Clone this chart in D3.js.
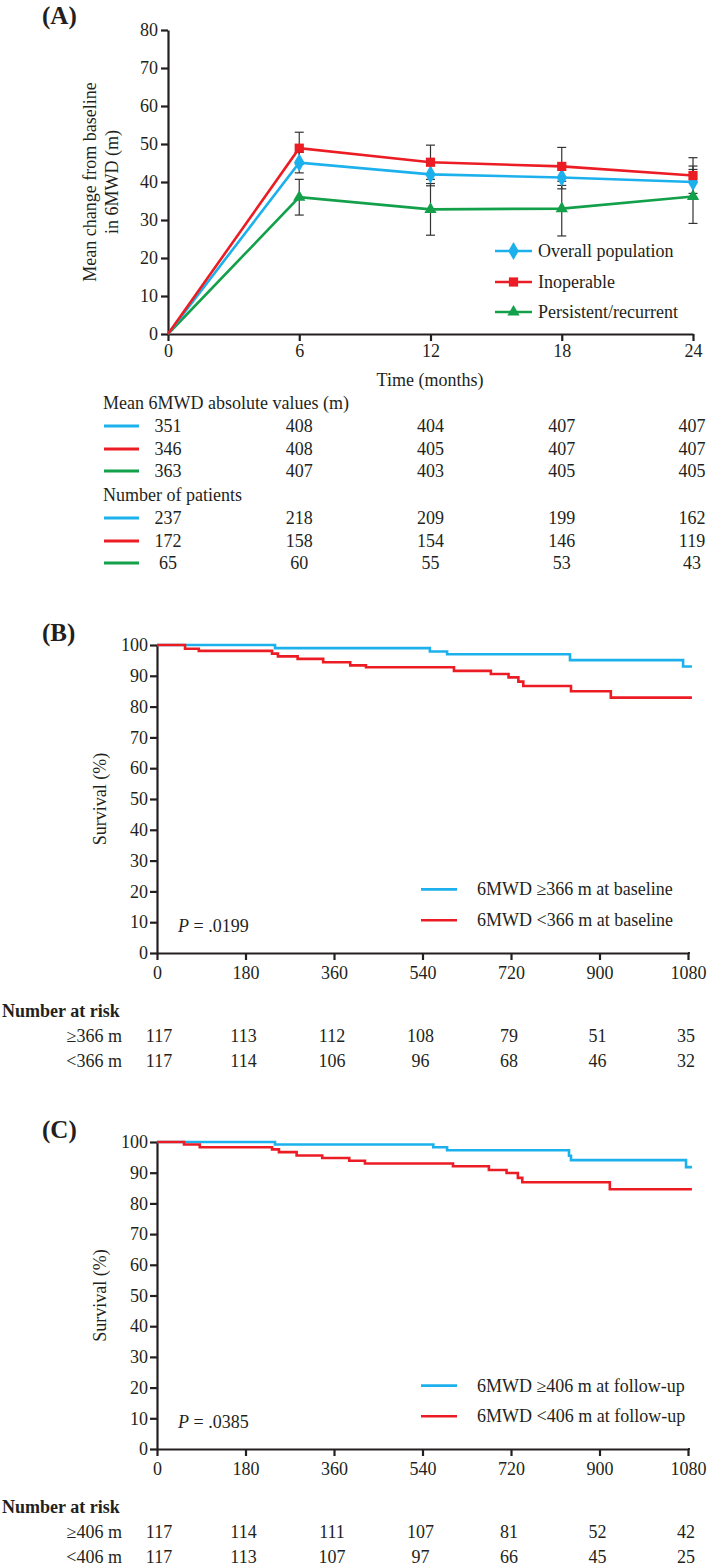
<!DOCTYPE html>
<html>
<head>
<meta charset="utf-8">
<script src="https://cdn.jsdelivr.net/npm/d3@7"></script>
<style>
  html, body { margin: 0; padding: 0; background: #fff; }
  svg { display: block; }
  text { font-family: "Liberation Serif", "Times New Roman", serif; fill: #231f20; }
</style>
</head>
<body>
<svg id="chart" width="709" height="1566"></svg>
<script>
// ---------------- Panel A data ----------------
const months = [0, 6, 12, 18, 24];
const seriesNames = ["Overall population", "Inoperable", "Persistent/recurrent"];
const overallMean = [0, 45.1, 42.0, 41.2, 40.0];
const inoperableMean = [0, 48.9, 45.2, 44.1, 41.7];
const persistentMean = [0, 36.0, 32.8, 33.0, 36.2];
const overallErr = [0, 2.7, 3.0, 3.0, 4.2];
const inoperableErr = [0, 4.2, 4.5, 5.0, 4.7];
const persistentErr = [0, 4.7, 6.8, 7.2, 7.1];
const yTicksA = [0, 10, 20, 30, 40, 50, 60, 70, 80];
const absOverall = [351, 408, 404, 407, 407];
const absInoperable = [346, 408, 405, 407, 407];
const absPersistent = [363, 407, 403, 405, 405];
const nOverall = [237, 218, 209, 199, 162];
const nInoperable = [172, 158, 154, 146, 119];
const nPersistent = [65, 60, 55, 53, 43];

// ---------------- Panel B data (Kaplan-Meier) ----------------
const kmTicks = [0, 180, 360, 540, 720, 900, 1080];
const survTicks = [0, 10, 20, 30, 40, 50, 60, 70, 80, 90, 100];
const kmEnd = 1088;
const bHighTimes = [0, 240, 555, 590, 840, 1070];
const bHighSurv = [100, 99.0, 97.9, 97.0, 95.1, 93.0];
const bLowTimes = [0, 57, 85, 234, 246, 286, 338, 393, 425, 604, 679, 715, 735, 745, 842, 923];
const bLowSurv = [100, 98.8, 98.1, 97.2, 96.3, 95.5, 94.4, 93.4, 92.8, 91.6, 90.6, 89.5, 88.1, 86.7, 85.0, 82.9];
const bRiskHigh = [117, 113, 112, 108, 79, 51, 35];
const bRiskLow = [117, 114, 106, 96, 68, 46, 32];
const bLegend = ["6MWD \u2265366 m at baseline", "6MWD <366 m at baseline"];
const bRiskLabels = ["\u2265366 m", "<366 m"];
const bP = ".0199";

// ---------------- Panel C data (Kaplan-Meier) ----------------
const cHighTimes = [0, 240, 562, 590, 838, 842, 1076];
const cHighSurv = [100, 99.2, 98.3, 97.3, 95.5, 94.1, 91.8];
const cLowTimes = [0, 55, 87, 234, 248, 284, 336, 391, 423, 602, 675, 711, 734, 743, 921];
const cLowSurv = [100, 99.2, 98.3, 97.6, 96.7, 95.6, 94.8, 93.9, 93.0, 92.1, 90.9, 89.9, 88.3, 86.9, 84.6];
const cRiskHigh = [117, 114, 111, 107, 81, 52, 42];
const cRiskLow = [117, 113, 107, 97, 66, 45, 25];
const cLegend = ["6MWD \u2265406 m at follow-up", "6MWD <406 m at follow-up"];
const cRiskLabels = ["\u2265406 m", "<406 m"];
const cP = ".0385";

// ---------------- styles ----------------
const BLUE = "#1cb1ec", RED = "#ec1c24", GREEN = "#12a04a", INK = "#231f20";
const FS = 18;

const svg = d3.select("#chart");

function styleAxis(g) {
  g.attr("font-family", null).attr("font-size", null);
  g.selectAll("path.domain").attr("stroke", INK).attr("stroke-width", 2.2);
  g.selectAll(".tick line").attr("stroke", INK).attr("stroke-width", 2.2);
  g.selectAll(".tick text").attr("font-size", FS).attr("fill", INK)
    .attr("font-family", "Liberation Serif");
}

// ================= Panel A =================
const xA = d3.scaleLinear().domain([0, 24]).range([168, 693]);
const yA = d3.scaleLinear().domain([0, 80]).range([334, 30]);

svg.append("text").attr("x", 42).attr("y", 24).attr("font-size", 25).attr("font-weight", "bold").text("(A)");

const gA = svg.append("g");
gA.append("g").attr("transform", "translate(168,0)")
  .call(d3.axisLeft(yA).tickValues(yTicksA).tickSize(7).tickSizeOuter(0).tickPadding(3).tickFormat(d3.format("d")))
  .call(styleAxis);
gA.append("g").attr("transform", "translate(0,334)")
  .call(d3.axisBottom(xA).tickValues(months).tickSize(7).tickSizeOuter(0).tickPadding(3).tickFormat(d3.format("d")))
  .call(styleAxis);

gA.append("text").attr("transform", "translate(90,182) rotate(-90)")
  .attr("text-anchor", "middle").attr("dy", "0.35em").attr("font-size", FS).text("Mean change from baseline");
gA.append("text").attr("transform", "translate(112,182) rotate(-90)")
  .attr("text-anchor", "middle").attr("dy", "0.35em").attr("font-size", FS).text("in 6MWD (m)");
gA.append("text").attr("x", 430).attr("y", 386).attr("text-anchor", "middle").attr("font-size", FS).text("Time (months)");

const seriesA = [
  { name: seriesNames[0], mean: overallMean, err: overallErr, color: BLUE, sym: d3.symbolDiamond, size: 95 },
  { name: seriesNames[1], mean: inoperableMean, err: inoperableErr, color: RED, sym: d3.symbolSquare, size: 85 },
  { name: seriesNames[2], mean: persistentMean, err: persistentErr, color: GREEN, sym: d3.symbolTriangle, size: 65 }
];

// error bars
seriesA.forEach(s => {
  months.forEach((m, i) => {
    if (s.err[i] <= 0) return;
    const x = xA(m), y1 = yA(s.mean[i] - s.err[i]), y2 = yA(s.mean[i] + s.err[i]);
    gA.append("line").attr("x1", x).attr("x2", x).attr("y1", y1).attr("y2", y2).attr("stroke", "#333").attr("stroke-width", 1.2);
    [y1, y2].forEach(yy => gA.append("line").attr("x1", x - 4.5).attr("x2", x + 4.5).attr("y1", yy).attr("y2", yy).attr("stroke", "#333").attr("stroke-width", 1.2));
  });
});

const lineA = d3.line().x(d => xA(d[0])).y(d => yA(d[1]));
[seriesA[2], seriesA[0], seriesA[1]].forEach(s => {
  gA.append("path").datum(months.map((m, i) => [m, s.mean[i]]))
    .attr("d", lineA).attr("fill", "none").attr("stroke", s.color).attr("stroke-width", 2.6);
  months.forEach((m, i) => {
    if (i === 0) return;
    gA.append("path").attr("d", d3.symbol().type(s.sym).size(s.size)())
      .attr("transform", `translate(${xA(m)},${yA(s.mean[i])})`).attr("fill", s.color);
  });
});

// legend A
const legA = [251, 282, 312];
seriesA.forEach((s, i) => {
  gA.append("line").attr("x1", 495).attr("x2", 532).attr("y1", legA[i]).attr("y2", legA[i]).attr("stroke", s.color).attr("stroke-width", 2.6);
  gA.append("path").attr("d", d3.symbol().type(s.sym).size(s.size)()).attr("transform", `translate(513.5,${legA[i]})`).attr("fill", s.color);
  gA.append("text").attr("x", 538).attr("y", legA[i] + 6).attr("font-size", FS).text(s.name);
});

// table A
gA.append("text").attr("x", 103).attr("y", 409).attr("font-size", FS).text("Mean 6MWD absolute values (m)");
gA.append("text").attr("x", 103).attr("y", 501).attr("font-size", FS).text("Number of patients");
const tableRows = [
  { vals: absOverall, color: BLUE, y: 426 },
  { vals: absInoperable, color: RED, y: 449 },
  { vals: absPersistent, color: GREEN, y: 471 },
  { vals: nOverall, color: BLUE, y: 518 },
  { vals: nInoperable, color: RED, y: 541 },
  { vals: nPersistent, color: GREEN, y: 563 }
];
tableRows.forEach(r => {
  gA.append("line").attr("x1", 104).attr("x2", 139).attr("y1", r.y).attr("y2", r.y).attr("stroke", r.color).attr("stroke-width", 2.8);
  r.vals.forEach((v, i) => {
    gA.append("text").attr("x", xA(months[i]) - (i === 4 ? 1 : 0)).attr("y", r.y + 6).attr("text-anchor", "middle").attr("font-size", FS).text(v);
  });
});

// ================= KM panels =================
const xK = d3.scaleLinear().domain([0, 1080]).range([157, 688]);

function kmPanel(opts) {
  const { label, top, bottom, highT, highS, lowT, lowS, legend, riskLabels, riskHigh, riskLow, pval } = opts;
  const y = d3.scaleLinear().domain([0, 100]).range([bottom, top]);
  const g = svg.append("g");
  g.append("text").attr("x", 42).attr("y", top - 4).attr("font-size", 25).attr("font-weight", "bold").text(label);

  g.append("g").attr("transform", "translate(157,0)")
    .call(d3.axisLeft(y).tickValues(survTicks).tickSize(7).tickSizeOuter(0).tickPadding(2).tickFormat(d3.format("d")))
    .call(styleAxis);
  g.append("g").attr("transform", `translate(0,${bottom})`)
    .call(d3.axisBottom(xK).tickValues(kmTicks).tickSize(7).tickSizeOuter(0).tickPadding(6).tickFormat(d3.format("d")))
    .call(styleAxis);
  g.append("line").attr("x1", 688).attr("x2", xK(kmEnd) - 2).attr("y1", bottom).attr("y2", bottom).attr("stroke", INK).attr("stroke-width", 2.2);

  g.append("text").attr("transform", `translate(100,${(top + bottom) / 2}) rotate(-90)`)
    .attr("text-anchor", "middle").attr("dy", "0.35em").attr("font-size", FS).text("Survival (%)");

  const stepLine = d3.line().curve(d3.curveStepAfter).x(d => xK(d[0])).y(d => y(d[1]));
  const mk = (T, S) => { const p = T.map((t, i) => [t, S[i]]); p.push([kmEnd, S[S.length - 1]]); return p; };
  g.append("path").datum(mk(highT, highS)).attr("d", stepLine).attr("fill", "none").attr("stroke", BLUE).attr("stroke-width", 2.6);
  g.append("path").datum(mk(lowT, lowS)).attr("d", stepLine).attr("fill", "none").attr("stroke", RED).attr("stroke-width", 2.6);

  // legend
  [[BLUE, y(20) - 2], [RED, y(10) - 2]].forEach(([c, yy], i) => {
    g.append("line").attr("x1", 421).attr("x2", 457).attr("y1", yy).attr("y2", yy).attr("stroke", c).attr("stroke-width", 2.6);
    g.append("text").attr("x", 477).attr("y", yy + 6).attr("font-size", FS).text(legend[i]);
  });

  // P value
  const pt = g.append("text").attr("x", 178).attr("y", y(10) + 10).attr("font-size", FS);
  pt.append("tspan").attr("font-style", "italic").text("P");
  pt.append("tspan").text(" = " + pval);

  // number at risk
  g.append("text").attr("x", 2).attr("y", bottom + 64).attr("font-size", FS).attr("font-weight", "bold").text("Number at risk");
  [[riskLabels[0], riskHigh, bottom + 89], [riskLabels[1], riskLow, bottom + 114]].forEach(([lab, vals, yy]) => {
    g.append("text").attr("x", 122).attr("y", yy).attr("text-anchor", "end").attr("font-size", FS).text(lab);
    vals.forEach((v, i) => {
      g.append("text").attr("x", xK(kmTicks[i]) + (i === 0 ? 2 : -2)).attr("y", yy).attr("text-anchor", "middle").attr("font-size", FS).text(v);
    });
  });
}

kmPanel({ label: "(B)", top: 645, bottom: 953, highT: bHighTimes, highS: bHighSurv, lowT: bLowTimes, lowS: bLowSurv,
  legend: bLegend, riskLabels: bRiskLabels, riskHigh: bRiskHigh, riskLow: bRiskLow, pval: bP });
kmPanel({ label: "(C)", top: 1142, bottom: 1449, highT: cHighTimes, highS: cHighSurv, lowT: cLowTimes, lowS: cLowSurv,
  legend: cLegend, riskLabels: cRiskLabels, riskHigh: cRiskHigh, riskLow: cRiskLow, pval: cP });
</script>
</body>
</html>
